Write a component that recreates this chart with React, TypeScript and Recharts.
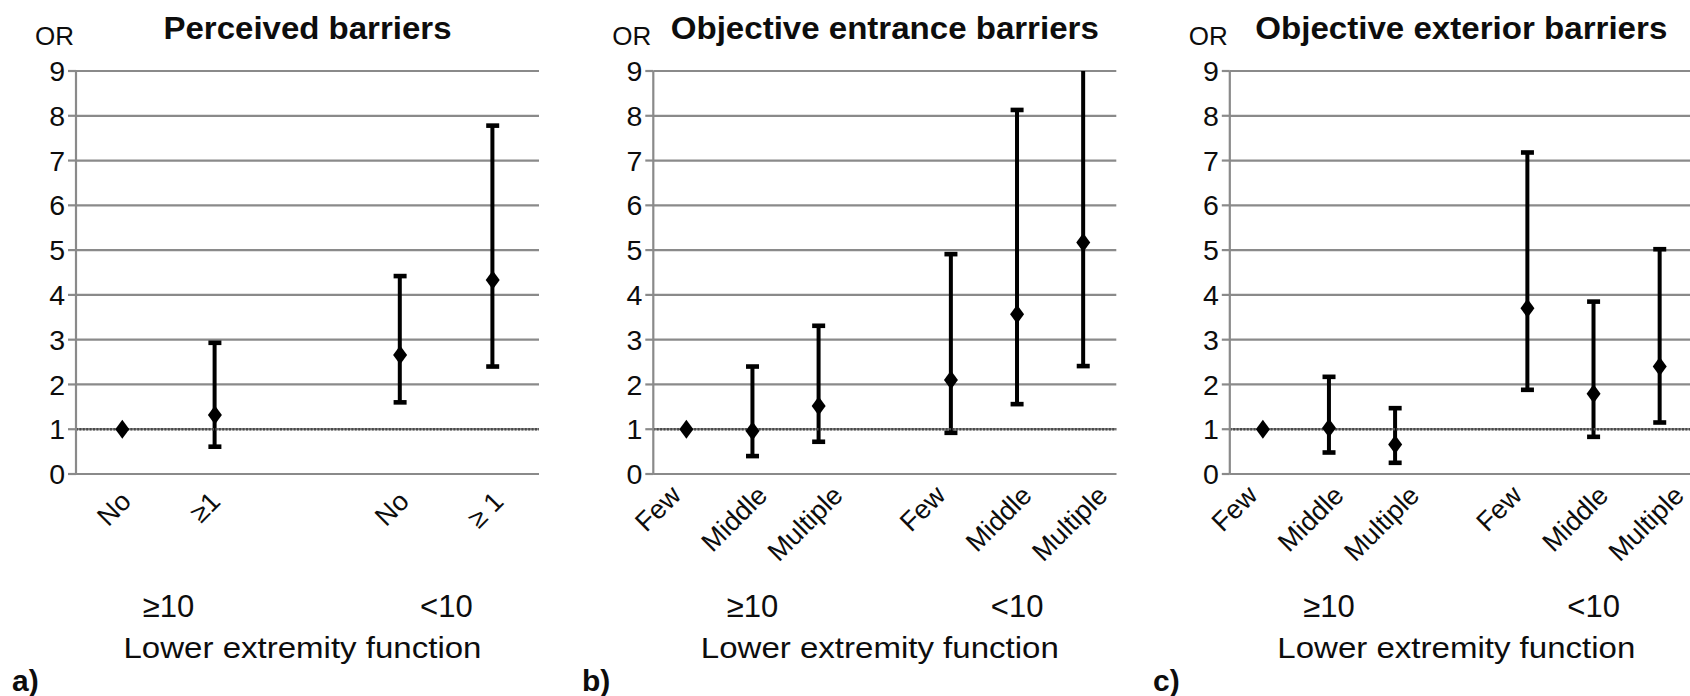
import React from 'react';
import { ComposedChart, Bar, Scatter, XAxis, YAxis, CartesianGrid, ReferenceLine } from 'recharts';

const FONT = '"Liberation Sans", Arial, Helvetica, sans-serif';
const GRID = '#8a8a8a';
const INK = '#0d0d0d';
const Y_MAX = 9;
const Y_TICKS = [0, 1, 2, 3, 4, 5, 6, 7, 8, 9];

// ---- Panel a: Perceived barriers
const labelsA = ['No', '≥1', '', 'No', '≥ 1'];
const orA = [1.0, 1.32, null, 2.66, 4.33];
const loA = [null, 0.61, null, 1.6, 2.4];
const hiA = [null, 2.93, null, 4.42, 7.78];

// ---- Panel b: Objective entrance barriers
const labelsB = ['Few', 'Middle', 'Multiple', '', 'Few', 'Middle', 'Multiple'];
const orB = [1.0, 0.96, 1.52, null, 2.1, 3.57, 5.17];
const loB = [null, 0.4, 0.72, null, 0.92, 1.56, 2.41];
const hiB = [null, 2.4, 3.31, null, 4.91, 8.13, 9.0]; // last upper limit runs off the axis

// ---- Panel c: Objective exterior barriers
const labelsC = ['Few', 'Middle', 'Multiple', '', 'Few', 'Middle', 'Multiple'];
const orC = [1.0, 1.03, 0.66, null, 3.7, 1.79, 2.4];
const loC = [null, 0.48, 0.25, null, 1.88, 0.83, 1.15];
const hiC = [null, 2.17, 1.47, null, 7.18, 3.85, 5.02];

const titles = ['Perceived barriers', 'Objective entrance barriers', 'Objective exterior barriers'];
const groupLabels = ['≥10', '<10'];
const groupsA = [[0, 1], [3, 4]];
const groupsBC = [[0, 1, 2], [4, 5, 6]];
const axisTitle = 'Lower extremity function';
const yLabel = 'OR';
const panelLetters = ['a)', 'b)', 'c)'];

// ---- layout
const W = 1690;
const H = 696;
const PW = 463;
const PLOT_TOP = 71;
const PLOT_BOTTOM = 474;
const YW = 60;
const XH = 40;
const TICK_FS = 27;

type Row = { id: string; or: number | null; range: number[] | null; loCap: number | null; hiCap: number | null };

function buildRows(labels: string[], or: (number | null)[], lo: (number | null)[], hi: (number | null)[]): Row[] {
  return labels.map((_, i) => ({
    id: String(i),
    or: or[i],
    range: lo[i] != null && hi[i] != null ? [lo[i] as number, hi[i] as number] : null,
    loCap: lo[i],
    hiCap: hi[i] != null && (hi[i] as number) < Y_MAX ? hi[i] : null,
  }));
}

let ctx: CanvasRenderingContext2D | null = null;
function measure(t: string): number {
  if (!ctx) {
    const c = document.createElement('canvas');
    ctx = c.getContext('2d');
  }
  if (!ctx) return t.length * TICK_FS * 0.55;
  ctx.font = `${TICK_FS}px "Liberation Sans", Arial, sans-serif`;
  return ctx.measureText(t).width;
}

function makeTick(labels: string[], startOff: number, dy: number) {
  return (props: any) => {
    const { x, y, payload } = props;
    const label = labels[payload.index] ?? '';
    if (!label) return <g />;
    const L = measure(label);
    const px = x + startOff + L * Math.SQRT1_2;
    const py = y + dy;
    return (
      <text
        x={px}
        y={py}
        textAnchor="end"
        transform={`rotate(-45 ${px} ${py})`}
        fontSize={TICK_FS}
        fontFamily={FONT}
        fill={INK}
      >
        {label}
      </text>
    );
  };
}

function makeMarker(key: keyof Row, kind: 'diamond' | 'cap') {
  return (p: any) => {
    const { cx, cy, payload } = p;
    if (!payload || payload[key] == null || cx == null || cy == null || isNaN(cy)) return <g />;
    if (kind === 'cap') {
      return <rect x={cx - 6.5} y={cy - 2.3} width={13} height={4.6} fill="#000" />;
    }
    return (
      <polygon
        points={`${cx},${cy - 9.5} ${cx + 7},${cy} ${cx},${cy + 9.5} ${cx - 7},${cy}`}
        fill="#000"
      />
    );
  };
}

type PanelProps = {
  rows: Row[];
  labels: string[];
  chartLeft: number;
  chartWidth: number;
  plotLeft: number;
  startOff: number;
  labelDy: number;
};

function Panel({ rows, labels, chartLeft, chartWidth, plotLeft, startOff, labelDy }: PanelProps) {
  const mLeft = plotLeft - chartLeft - YW;
  const mRight = chartWidth - (plotLeft - chartLeft) - PW;
  return (
    <div style={{ position: 'absolute', left: chartLeft, top: 0, width: chartWidth, height: H }}>
      <ComposedChart
        width={chartWidth}
        height={H}
        data={rows}
        margin={{ top: PLOT_TOP, right: mRight, left: mLeft, bottom: H - PLOT_BOTTOM - XH }}
      >
        <CartesianGrid horizontal vertical={false} stroke={GRID} strokeWidth={2.2} />
        <XAxis
          dataKey="id"
          type="category"
          interval={0}
          height={XH}
          tickSize={0}
          tickMargin={0}
          tickLine={false}
          axisLine={{ stroke: GRID, strokeWidth: 2.2 }}
          tick={makeTick(labels, startOff, labelDy)}
        />
        <YAxis
          domain={[0, Y_MAX]}
          ticks={Y_TICKS}
          interval={0}
          width={YW}
          tickSize={8}
          tickMargin={3}
          tickLine={{ stroke: GRID, strokeWidth: 2.2 }}
          axisLine={{ stroke: GRID, strokeWidth: 2.2 }}
          tick={{ fontSize: 28.5, fill: INK, fontFamily: FONT }}
        />
        <YAxis
          yAxisId="border"
          orientation="right"
          domain={[0, Y_MAX]}
          width={0}
          tick={false}
          tickLine={false}
          axisLine={{ stroke: GRID, strokeWidth: 2.2 }}
        />
        <ReferenceLine y={1} stroke="#4a4a4a" strokeWidth={2.4} strokeDasharray="2 1.4" />
        <Bar dataKey="range" barSize={4} fill="#000" isAnimationActive={false} />
        <Scatter dataKey="hiCap" shape={makeMarker('hiCap', 'cap')} isAnimationActive={false} />
        <Scatter dataKey="loCap" shape={makeMarker('loCap', 'cap')} isAnimationActive={false} />
        <Scatter dataKey="or" shape={makeMarker('or', 'diamond')} isAnimationActive={false} />
      </ComposedChart>
    </div>
  );
}

const PLOT_LEFTS = [76, 653.3, 1229.8];
const CHART_LEFTS = [0, 560, 1140];
const CHART_WIDTHS = [560, 580, 580];
const TITLE_LEN = [288, 428, 412];
const LETTER_X = [12, 582, 1153];

export default function App() {
  const rowsA = buildRows(labelsA, orA, loA, hiA);
  const rowsB = buildRows(labelsB, orB, loB, hiB);
  const rowsC = buildRows(labelsC, orC, loC, hiC);
  const nCats = [labelsA.length, labelsB.length, labelsC.length];
  const groups = [groupsA, groupsBC, groupsBC];

  return (
    <div
      style={{
        position: 'fixed',
        left: 0,
        top: 0,
        width: W,
        height: H,
        overflow: 'hidden',
        background: '#fff',
        fontFamily: FONT,
      }}
    >
      <Panel rows={rowsA} labels={labelsA} chartLeft={CHART_LEFTS[0]} chartWidth={CHART_WIDTHS[0]} plotLeft={PLOT_LEFTS[0]} startOff={-14} labelDy={29} />
      <Panel rows={rowsB} labels={labelsB} chartLeft={CHART_LEFTS[1]} chartWidth={CHART_WIDTHS[1]} plotLeft={PLOT_LEFTS[1]} startOff={-40} labelDy={23} />
      <Panel rows={rowsC} labels={labelsC} chartLeft={CHART_LEFTS[2]} chartWidth={CHART_WIDTHS[2]} plotLeft={PLOT_LEFTS[2]} startOff={-40} labelDy={23} />
      <svg
        width={W}
        height={H}
        style={{ position: 'absolute', left: 0, top: 0, pointerEvents: 'none' }}
        fontFamily={FONT}
      >
        {PLOT_LEFTS.map((pl, k) => {
          const band = PW / nCats[k];
          const center = pl + PW / 2;
          return (
            <g key={k}>
              <text x={center} y={39} textAnchor="middle" fontSize={31} fontWeight="bold" fill={INK} textLength={TITLE_LEN[k]} lengthAdjust="spacingAndGlyphs">
                {titles[k]}
              </text>
              <text x={pl - 2} y={45} textAnchor="end" fontSize={26} fill={INK}>
                {yLabel}
              </text>
              {groups[k].map((g, gi) => {
                const mid = g.reduce((s, v) => s + v, 0) / g.length;
                return (
                  <text key={gi} x={pl + band * (mid + 0.5)} y={617} textAnchor="middle" fontSize={31} fill={INK}>
                    {groupLabels[gi]}
                  </text>
                );
              })}
              <text x={center - 5} y={657.5} textAnchor="middle" fontSize={30} fill={INK} textLength={358} lengthAdjust="spacingAndGlyphs">
                {axisTitle}
              </text>
              <text x={LETTER_X[k]} y={691} fontSize={30} fontWeight="bold" fill={INK}>
                {panelLetters[k]}
              </text>
            </g>
          );
        })}
      </svg>
    </div>
  );
}
